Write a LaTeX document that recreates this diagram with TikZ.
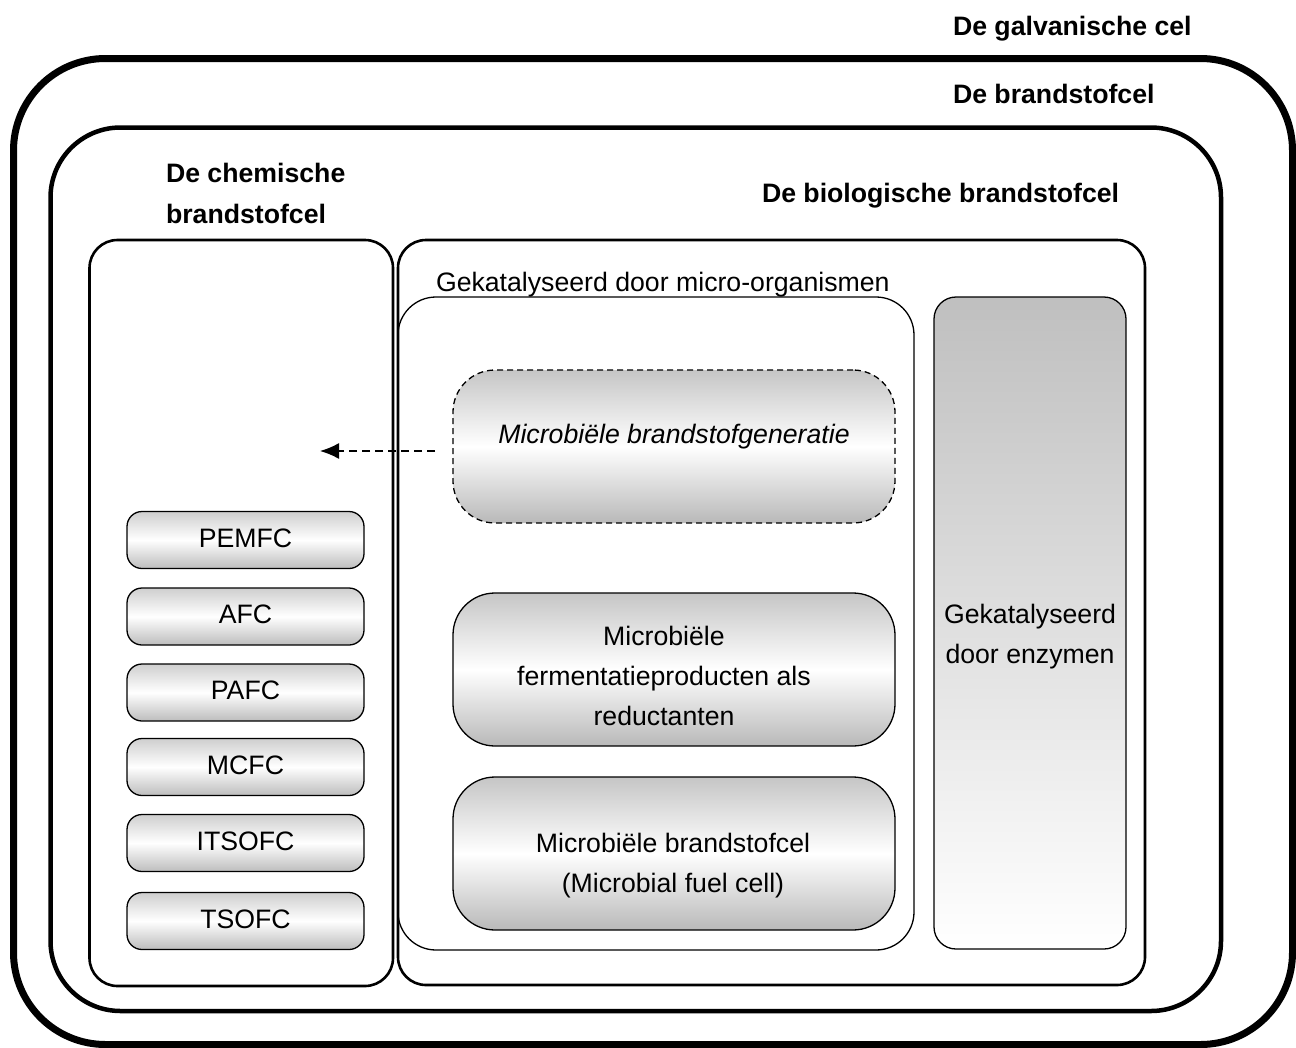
\documentclass[tikz,border=0pt]{standalone}
\usepackage{fontspec}
\setmainfont{Liberation Sans}
\usetikzlibrary{arrows.meta}
\begin{document}
\begin{tikzpicture}[x=1pt,y=-1pt,
  frame/.style={draw, rectangle, inner sep=0pt, outer sep=0pt},
  galvbox/.style={frame, line width=7pt, rounded corners=92pt},
  brandbox/.style={frame, line width=4.5pt, rounded corners=70pt},
  groupbox/.style={frame, line width=2.6pt, rounded corners=28pt},
  thinbox/.style={frame, line width=1.3pt},
  fcbox/.style={thinbox, rounded corners=15pt, minimum width=237pt, minimum height=57pt,
    top color=gray!38, bottom color=gray!52, middle color=white,
    text height=19pt, text depth=5pt, font=\fontsize{26.67pt}{40pt}\selectfont},
  bigbox/.style={thinbox, rounded corners=42pt, minimum width=442pt, minimum height=153pt,
    top color=gray!45, bottom color=gray!55, middle color=white},
  txt/.style={inner sep=0pt, outer sep=0pt, font=\fontsize{26.67pt}{40pt}\selectfont},
  btxt/.style={inner sep=0pt, outer sep=0pt, font=\fontsize{26.67pt}{41pt}\selectfont\bfseries}
]
\useasboundingbox (0,0) rectangle (1296,1047);

% nested frames
\node[galvbox, minimum width=1279pt, minimum height=986pt] (galv) at (653,551.5) {};
\node[brandbox, minimum width=1170.5pt, minimum height=883.5pt] (brand) at (635.75,569.25) {};
\node[groupbox, minimum width=303.5pt, minimum height=746pt] (chem) at (241.25,613) {};
\node[groupbox, minimum width=747pt, minimum height=745pt] (bio) at (771.5,612.5) {};
\node[thinbox, rounded corners=38pt, minimum width=516pt, minimum height=653pt] (micro) at (656,623.5) {};
\node[thinbox, rounded corners=22pt, minimum width=192pt, minimum height=652pt,
      top color=gray!50, bottom color=white] (enz) at (1030,623) {};

% headings
\node[btxt, anchor=base west] (lgalv) at (953,35) {De galvanische cel};
\node[btxt, anchor=base west] (lbrand) at (953,103) {De brandstofcel};
\node[btxt, anchor=base west] (lbio) at (762,202) {De biologische brandstofcel};
\node[btxt, anchor=west, align=left] (lchem) at (166,193) {De chemische\\brandstofcel};
\node[txt, anchor=base west] (lmicro) at (436,291) {Gekatalyseerd door micro-organismen};

% chemical fuel cell types
\node[fcbox] (pemfc) at (245.5,540) {PEMFC};
\node[fcbox] (afc) at (245.5,616.5) {AFC};
\node[fcbox] (pafc) at (245.5,692.5) {PAFC};
\node[fcbox] (mcfc) at (245.5,767) {MCFC};
\node[fcbox] (itsofc) at (245.5,843) {ITSOFC};
\node[fcbox] (tsofc) at (245.5,921) {TSOFC};

% microbial boxes
\node[bigbox, dashed, dash pattern=on 6pt off 4pt] (gen) at (674,446.5) {};
\node[bigbox] (ferm) at (674,669.5) {};
\node[bigbox] (mfc) at (674,853.5) {};

\node[txt, anchor=base, font=\fontsize{26.67pt}{40pt}\selectfont\itshape] (tgen) at (674,443) {Microbiële brandstofgeneratie};
\node[txt, align=center] (tferm) at (664,676) {Microbiële\\fermentatieproducten als\\reductanten};
\node[txt, align=center] (tmfc) at (673,866) {Microbiële brandstofcel\\(Microbial fuel cell)};
\node[txt, align=center] (tenz) at (1030,637) {Gekatalyseerd\\door enzymen};

% dashed arrow
\coordinate (arrend) at (320,451);
\draw[line width=1.6pt, dash pattern=on 8pt off 5pt, -{Latex[length=19pt,width=16pt]}]
  ([xshift=-18pt,yshift=-4.5pt]gen.west) -- (arrend);
\end{tikzpicture}
\end{document}
